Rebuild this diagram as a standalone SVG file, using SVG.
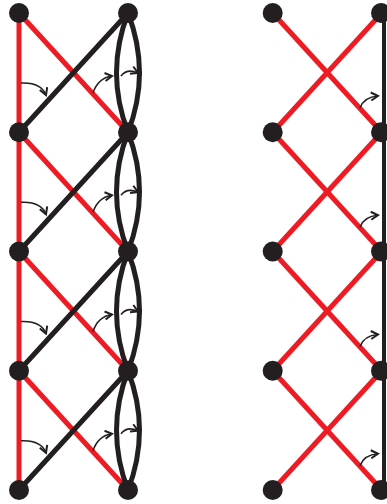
<svg xmlns="http://www.w3.org/2000/svg" width="387" height="504" viewBox="0 0 387 504">
<style>
.r{stroke:#ed1c24;stroke-width:5;fill:none}
.k{stroke:#231f20;stroke-width:5;fill:none}
.a{stroke:#231f20;stroke-width:1.6;fill:none;marker-end:url(#ah)}
.n{fill:#231f20}
</style>
<defs>
<marker id="ah" viewBox="0 0 10 10" refX="8" refY="5" markerWidth="10" markerHeight="10" markerUnits="userSpaceOnUse" orient="auto">
<path d="M1,1 L8,5 L1,9" fill="none" stroke="#231f20" stroke-width="2"/>
</marker>
<g id="segL">
<line class="r" x1="19" y1="13" x2="19" y2="132.25"/>
<line class="r" x1="19" y1="13" x2="128" y2="132.25"/>
<line class="k" x1="128" y1="13" x2="19" y2="132.25"/>
<path class="k" d="M128,13 Q105,72.6 128,132.25"/>
<path class="k" d="M128,13 Q151,72.6 128,132.25"/>
<path class="a" d="M21,83 Q41,82 46,95"/>
<path class="a" d="M93,93 Q98,78 112,76"/>
<path class="a" d="M121,76 Q127,68 138,73"/>
</g>
<g id="segR">
<line class="r" x1="272.7" y1="13" x2="381.7" y2="132.25"/>
<line class="r" x1="381.7" y1="13" x2="272.7" y2="132.25"/>
<path class="a" d="M360,108 Q364,97 378,96"/>
</g>
</defs>
<g id="connectors">
<use href="#segL"/>
<use href="#segL" y="119.25"/>
<use href="#segL" y="238.5"/>
<use href="#segL" y="357.75"/>
<use href="#segR"/>
<use href="#segR" y="119.25"/>
<use href="#segR" y="238.5"/>
<use href="#segR" y="357.75"/>
<line x1="384" y1="13" x2="384" y2="490" stroke="#231f20" stroke-width="4"/>
</g>
<g id="n1"><circle class="n" cx="19" cy="13" r="10"/></g>
<g id="n2"><circle class="n" cx="19" cy="132.25" r="10"/></g>
<g id="n3"><circle class="n" cx="19" cy="251.5" r="10"/></g>
<g id="n4"><circle class="n" cx="19" cy="370.75" r="10"/></g>
<g id="n5"><circle class="n" cx="19" cy="490" r="10"/></g>
<g id="n6"><circle class="n" cx="128" cy="13" r="10"/></g>
<g id="n7"><circle class="n" cx="128" cy="132.25" r="10"/></g>
<g id="n8"><circle class="n" cx="128" cy="251.5" r="10"/></g>
<g id="n9"><circle class="n" cx="128" cy="370.75" r="10"/></g>
<g id="n10"><circle class="n" cx="128" cy="490" r="10"/></g>
<g id="n11"><circle class="n" cx="272.7" cy="13" r="10"/></g>
<g id="n12"><circle class="n" cx="272.7" cy="132.25" r="10"/></g>
<g id="n13"><circle class="n" cx="272.7" cy="251.5" r="10"/></g>
<g id="n14"><circle class="n" cx="272.7" cy="370.75" r="10"/></g>
<g id="n15"><circle class="n" cx="272.7" cy="490" r="10"/></g>
<g id="n16"><circle class="n" cx="381" cy="13" r="10"/></g>
<g id="n17"><circle class="n" cx="381" cy="132.25" r="10"/></g>
<g id="n18"><circle class="n" cx="381" cy="251.5" r="10"/></g>
<g id="n19"><circle class="n" cx="381" cy="370.75" r="10"/></g>
<g id="n20"><circle class="n" cx="381" cy="490" r="10"/></g>
</svg>
